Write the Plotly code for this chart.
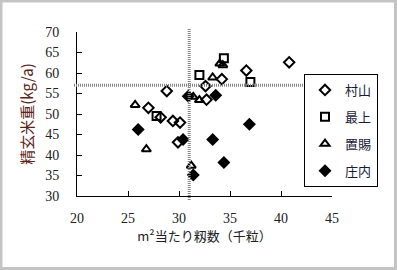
import plotly.graph_objects as go

# 村山 (open diamond)
murayama_x = [28.8, 27.0, 28.2, 29.4, 30.1, 29.9, 32.6, 32.7, 34.2, 36.6, 40.8]
murayama_y = [55.6, 51.5, 49.2, 48.3, 47.9, 43.1, 56.8, 53.5, 58.5, 60.6, 62.6]
# 最上 (open square)
mogami_x = [27.8, 32.0, 34.4, 37.0]
mogami_y = [49.5, 59.5, 63.6, 57.8]
# 置賜 (open triangle)
okitama_x = [25.7, 26.8, 31.2, 31.4, 32.0, 33.3, 34.0, 34.3]
okitama_y = [52.2, 41.4, 37.4, 54.2, 53.4, 58.9, 62.3, 61.9]
# 庄内 (filled diamond)
shonai_x = [26.0, 30.4, 30.9, 31.4, 33.3, 33.6, 34.4, 36.9]
shonai_y = [46.2, 43.8, 54.3, 35.1, 43.8, 54.6, 38.2, 47.5]

ref_x = 31.0
ref_y = 57.0

x_ticks = [20, 25, 30, 35, 40, 45]
y_ticks = [30, 35, 40, 45, 50, 55, 60, 65, 70]

series = [
    ("村山", murayama_x, murayama_y, "diamond-open", 8, 2),
    ("最上", mogami_x, mogami_y, "square-open", 8, 2),
    ("置賜", okitama_x, okitama_y, "triangle-up-open", 8, 2),
    ("庄内", shonai_x, shonai_y, "diamond", 10, 0),
]

SERIF = "Liberation Serif, Noto Sans CJK JP, serif"
JP = "Noto Sans CJK JP, Liberation Serif"

fig = go.Figure()
for i, (name, xs, ys, sym, sz, lw) in enumerate(series):
    fig.add_trace(go.Scatter(
        x=xs, y=ys, mode="markers", name=name, legendgroup=name,
        marker=dict(symbol=sym, size=sz, color="black",
                    line=dict(color="black", width=lw)),
    ))

L, R, T, B = 77, 65, 32, 74
W, H = 397, 270
pw, ph = W - L - R, H - T - B

def px_x(px):
    return (px - L) / pw

def px_y(py):
    return (H - B - py) / ph

fig.update_layout(
    width=W, height=H,
    margin=dict(l=L, r=R, t=T, b=B),
    paper_bgcolor="white", plot_bgcolor="white",
    font=dict(family=SERIF, size=14, color="black"),
    showlegend=True,
    legend=dict(
        x=px_x(304), y=px_y(74), xanchor="left", yanchor="top",
        bgcolor="white", bordercolor="black", borderwidth=1,
        font=dict(family=JP, size=13, color="#1a1a3a"),
        tracegroupgap=7, itemwidth=30,
        traceorder="grouped",
    ),
    xaxis=dict(
        range=[20, 45], tickvals=x_ticks, ticks="inside", ticklen=5,
        tickcolor="black", showline=True, linecolor="black", linewidth=1,
        showgrid=False, zeroline=False, ticklabelstandoff=9,
        tickfont=dict(family=SERIF, size=14, color="#202020"),
        title=dict(text="m²当たり籾数（千粒）", standoff=6,
                   font=dict(family=JP, size=13, color="#202020")),
    ),
    yaxis=dict(
        range=[30, 70], tickvals=y_ticks, ticks="inside", ticklen=5,
        tickcolor="black", showline=True, linecolor="black", linewidth=1,
        showgrid=False, zeroline=False, ticklabelstandoff=14,
        tickfont=dict(family=SERIF, size=14, color="#202020"),
        title=dict(text="精玄米重(kg/a)", standoff=7,
                   font=dict(family=JP, size=15, color="#5a2418")),
    ),
)

# dotted reference lines
fig.add_shape(type="line", xref="x", yref="paper", x0=ref_x, x1=ref_x,
              y0=px_y(200), y1=px_y(29),
              line=dict(color="#858585", width=3, dash="1px,1px"))
fig.add_shape(type="line", xref="paper", yref="y", x0=px_x(74), x1=px_x(304),
              y0=ref_y, y1=ref_y,
              line=dict(color="#858585", width=3, dash="1px,1px"))

# outer frame
fig.add_shape(type="rect", xref="paper", yref="paper",
              x0=px_x(1), x1=px_x(W - 1.5), y0=px_y(H - 1.5), y1=px_y(1),
              line=dict(color="#c4c4c4", width=3), layer="below")

fig.write_html("out.html")
